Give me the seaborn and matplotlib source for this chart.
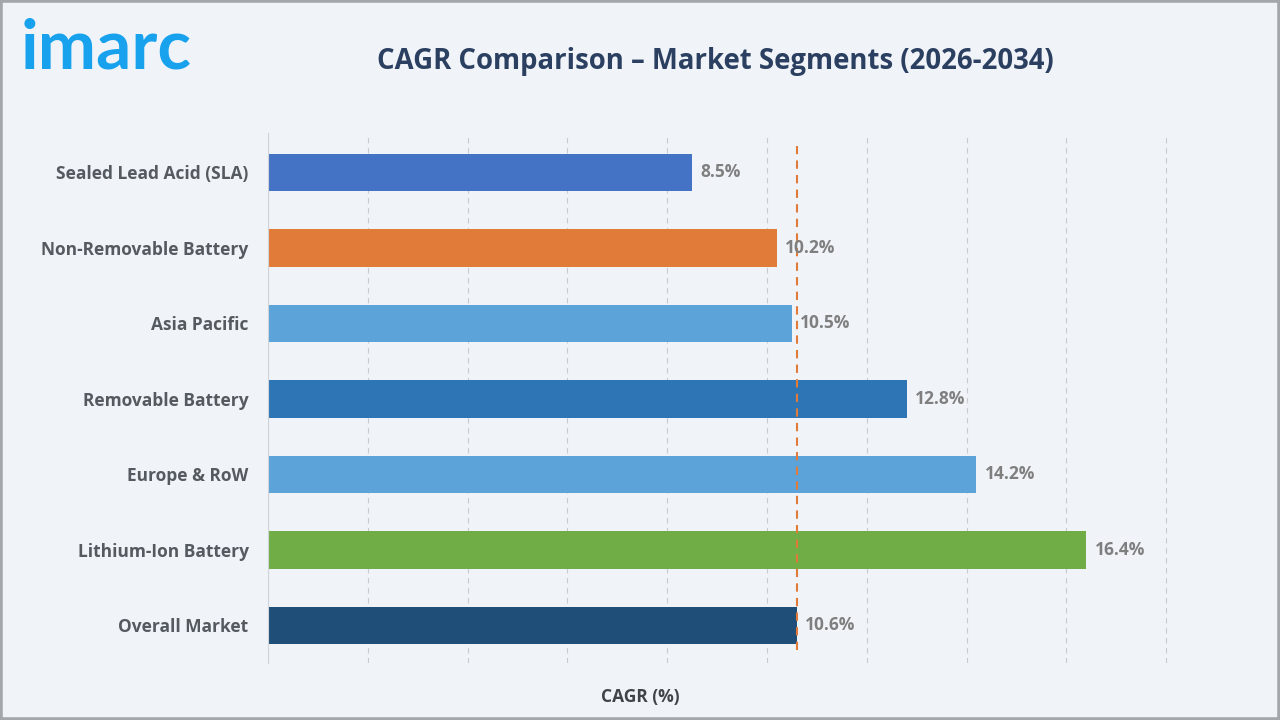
import matplotlib.pyplot as plt
import seaborn as sns
import pandas as pd
from matplotlib.patches import Rectangle

# --- Data ---
segments = ["Sealed Lead Acid (SLA)", "Non-Removable Battery", "Asia Pacific",
            "Removable Battery", "Europe & RoW", "Lithium-Ion Battery", "Overall Market"]
cagr = [8.5, 10.2, 10.5, 12.8, 14.2, 16.4, 10.6]
bar_colors = ["#4472c4", "#e07b39", "#5ba3d9", "#2e75b6", "#5ba3d9", "#70ad47", "#1f4e79"]
overall_cagr = 10.6

df = pd.DataFrame({"segment": segments, "cagr": cagr})

sns.set_style("white")
plt.rcParams['font.family'] = ['Open Sans', 'DejaVu Sans']

bg = "#f0f4f9"
fig = plt.figure(figsize=(12.8, 7.2), dpi=100, facecolor=bg)
ax = fig.add_axes([0.2094, 0.079, 0.7055, 0.736])
ax.set_facecolor(bg)

sns.barplot(data=df, y="segment", x="cagr", hue="segment", palette=bar_colors,
            orient="h", width=0.5, legend=False, ax=ax, saturation=1,
            edgecolor="none", linewidth=0)

ax.set_xlim(0, 18.1)
ax.set_ylim(6.5, -0.52)
ax.set_xticks(range(0, 19, 2))
ax.xaxis.grid(True, linestyle=(0, (5, 4)), color="#c8cbd0", linewidth=0.8)
ax.tick_params(axis="x", length=0, labelbottom=False)
ax.tick_params(axis="y", length=0, pad=14)
for lab in ax.get_yticklabels():
    lab.set_fontsize(12.5)
    lab.set_fontweight("bold")
    lab.set_color("#555a60")

for s in ["top", "right", "bottom"]:
    ax.spines[s].set_visible(False)
ax.spines["left"].set_color("#d0d3d8")
ax.spines["left"].set_linewidth(0.8)

ax.axvline(overall_cagr, color="#e07b39", linestyle=(0, (4, 3)), linewidth=1.5, ymin=0.025, ymax=0.975)

for i, v in enumerate(cagr):
    ax.text(v + 0.17, i, f"{v}%", va="center", ha="left", fontsize=12.5,
            fontweight="bold", color="#7f7f7f")

ax.set_ylabel("")
ax.set_xlabel("")
fig.text(0.5, 1 - 697 / 720, "CAGR (%)", ha="center", va="center", fontsize=12.5,
         fontweight="bold", color="#404448")

fig.text(0.559, 0.915, "CAGR Comparison – Market Segments (2026-2034)", ha="center", va="center",
         fontsize=19.8, fontweight="bold", color="#2b3f60")
fig.text(0.016, 0.932, "imarc", ha="left", va="center", fontsize=50, fontweight="bold",
         color="#18a2ee", family=["Lato", "DejaVu Sans"])

fig.patches.append(Rectangle((0, 0), 1, 1, transform=fig.transFigure, fill=False,
                             edgecolor="#a3a6aa", linewidth=4))

plt.savefig("out.png", facecolor=bg)
